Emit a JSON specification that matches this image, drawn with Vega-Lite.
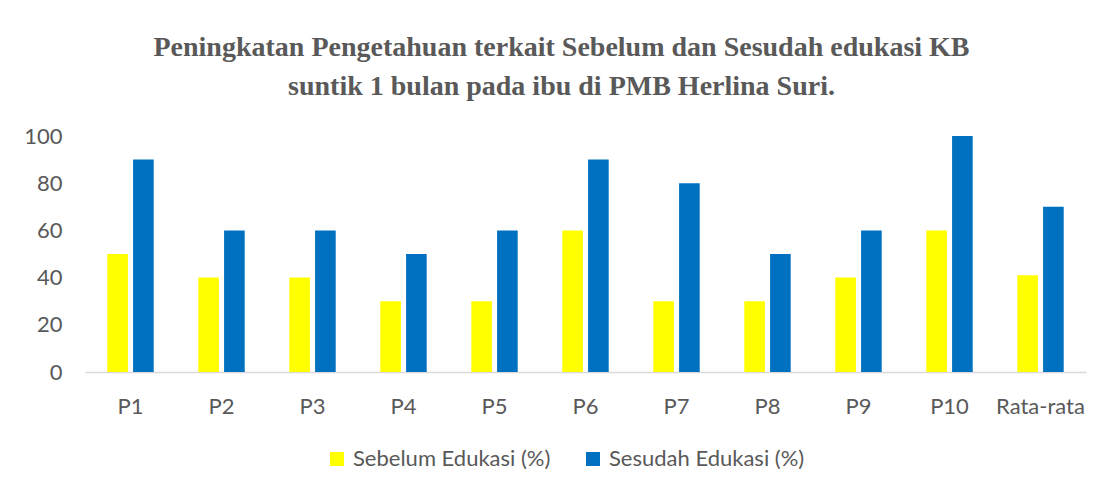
{
  "$schema": "https://vega.github.io/schema/vega-lite/v6.json",
  "autosize": "none",
  "width": 1001,
  "height": 236,
  "padding": {"left": 85, "top": 136, "right": 20, "bottom": 115},
  "background": "white",
  "config": {"view": {"stroke": null}},
  "title": {
    "text": ["Peningkatan Pengetahuan terkait Sebelum dan Sesudah edukasi KB", "suntik 1 bulan pada ibu di PMB Herlina Suri."],
    "font": "Liberation Serif",
    "fontSize": 28,
    "fontWeight": "bold",
    "color": "#595959",
    "anchor": "middle",
    "lineHeight": 39,
    "offset": 24,
    "dx": -24
  },
  "data": {
    "values": [
      {"p": "P1", "s": "Sebelum Edukasi (%)", "v": 50},
      {"p": "P1", "s": "Sesudah Edukasi (%)", "v": 90},
      {"p": "P2", "s": "Sebelum Edukasi (%)", "v": 40},
      {"p": "P2", "s": "Sesudah Edukasi (%)", "v": 60},
      {"p": "P3", "s": "Sebelum Edukasi (%)", "v": 40},
      {"p": "P3", "s": "Sesudah Edukasi (%)", "v": 60},
      {"p": "P4", "s": "Sebelum Edukasi (%)", "v": 30},
      {"p": "P4", "s": "Sesudah Edukasi (%)", "v": 50},
      {"p": "P5", "s": "Sebelum Edukasi (%)", "v": 30},
      {"p": "P5", "s": "Sesudah Edukasi (%)", "v": 60},
      {"p": "P6", "s": "Sebelum Edukasi (%)", "v": 60},
      {"p": "P6", "s": "Sesudah Edukasi (%)", "v": 90},
      {"p": "P7", "s": "Sebelum Edukasi (%)", "v": 30},
      {"p": "P7", "s": "Sesudah Edukasi (%)", "v": 80},
      {"p": "P8", "s": "Sebelum Edukasi (%)", "v": 30},
      {"p": "P8", "s": "Sesudah Edukasi (%)", "v": 50},
      {"p": "P9", "s": "Sebelum Edukasi (%)", "v": 40},
      {"p": "P9", "s": "Sesudah Edukasi (%)", "v": 60},
      {"p": "P10", "s": "Sebelum Edukasi (%)", "v": 60},
      {"p": "P10", "s": "Sesudah Edukasi (%)", "v": 100},
      {"p": "Rata-rata", "s": "Sebelum Edukasi (%)", "v": 41},
      {"p": "Rata-rata", "s": "Sesudah Edukasi (%)", "v": 70}
    ]
  },
  "mark": {"type": "bar"},
  "encoding": {
    "x": {
      "field": "p", "type": "nominal", "sort": null, "title": null,
      "scale": {"paddingInner": 0.49, "paddingOuter": 0.245},
      "axis": {
        "labelAngle": 0, "labelFont": "Lato", "labelFontSize": 22, "labelColor": "#595959",
        "labelPadding": 24, "ticks": false, "domainColor": "#D9D9D9", "domainWidth": 1.5, "grid": false
      }
    },
    "xOffset": {"field": "s", "type": "nominal", "scale": {"paddingInner": 0.2}},
    "y": {
      "field": "v", "type": "quantitative", "title": null,
      "scale": {"domain": [0, 100], "nice": false},
      "axis": {
        "values": [0, 20, 40, 60, 80, 100], "labelFont": "Lato", "labelFontSize": 22, "labelColor": "#595959",
        "labelPadding": 23, "ticks": false, "domain": false, "grid": false
      }
    },
    "color": {
      "field": "s", "type": "nominal", "title": null,
      "scale": {"domain": ["Sebelum Edukasi (%)", "Sesudah Edukasi (%)"], "range": ["#FFFF00", "#0070C0"]},
      "legend": {
        "orient": "none", "legendX": 241, "legendY": 312, "direction": "horizontal",
        "symbolType": "square", "symbolSize": 196, "symbolStrokeWidth": 0,
        "labelFont": "Lato", "labelFontSize": 22, "labelColor": "#595959", "labelLimit": 0,
        "columnPadding": 31, "labelOffset": 5
      }
    }
  }
}
